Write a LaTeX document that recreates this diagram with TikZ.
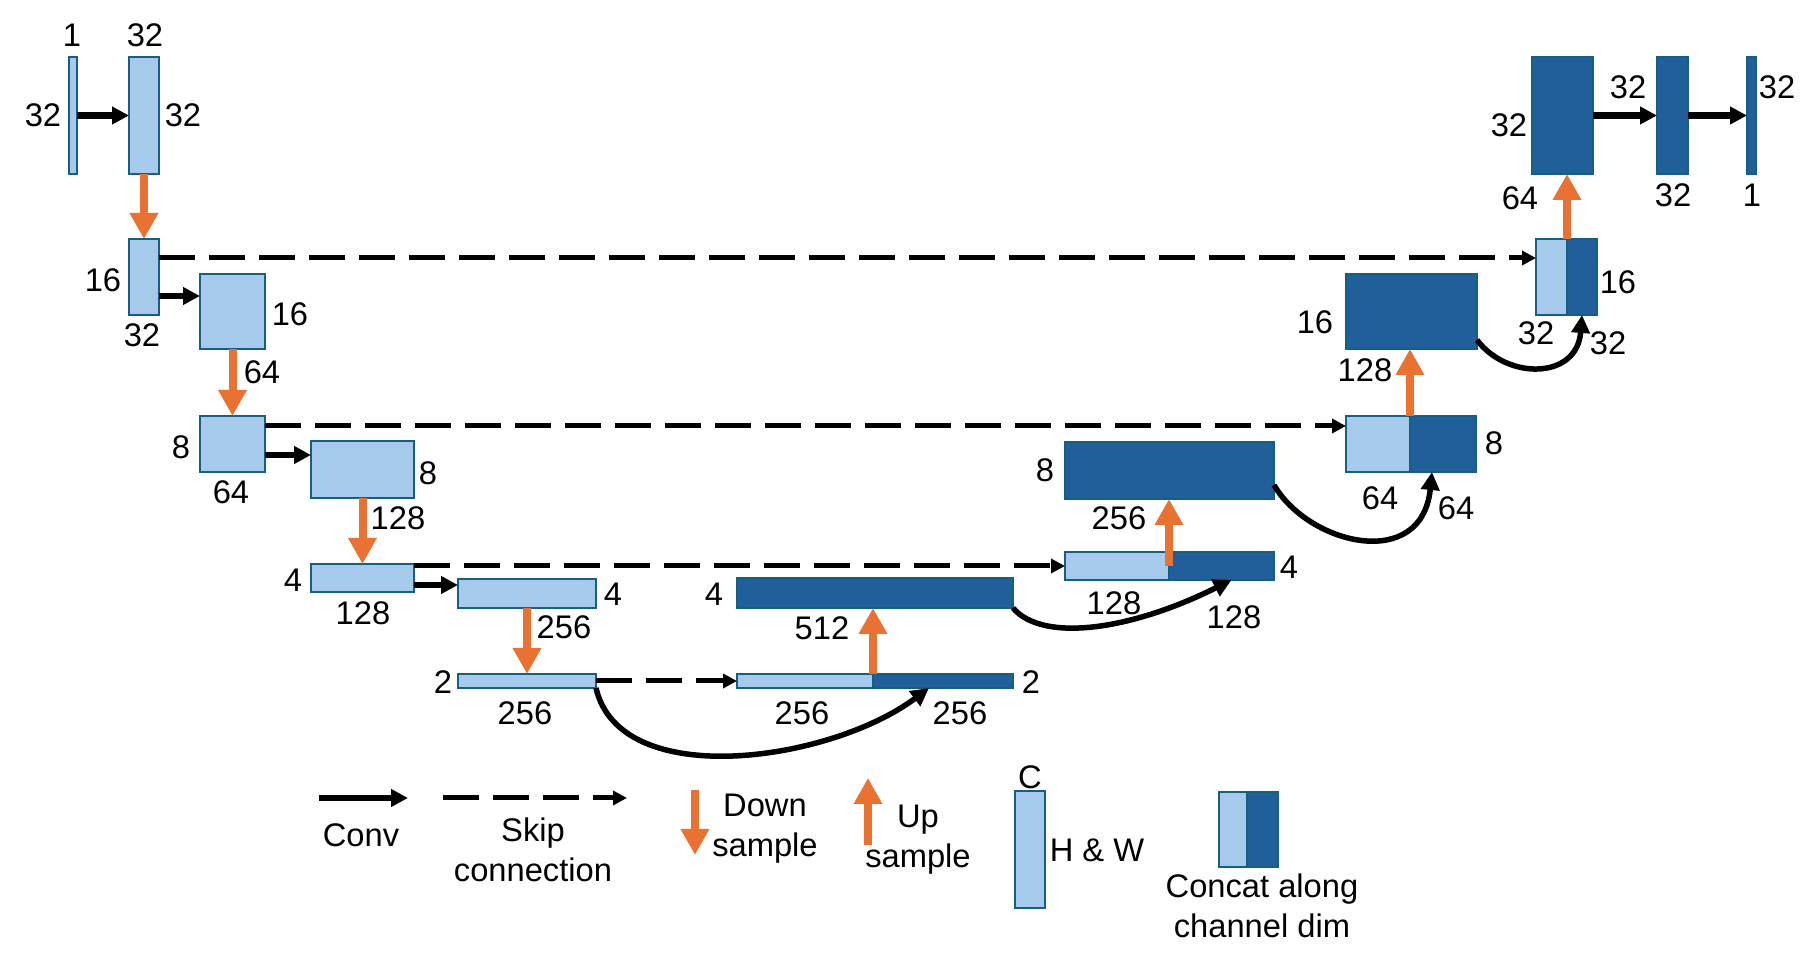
\documentclass[tikz,border=0pt]{standalone}
\usepackage{fontspec}
\setmainfont{Liberation Sans}
\usetikzlibrary{arrows.meta}

\definecolor{lightblk}{HTML}{A6CAEC}
\definecolor{darkblk}{HTML}{215F9A}
\definecolor{edgeblk}{HTML}{156082}
\definecolor{samplecol}{HTML}{E97132}

\begin{document}
\begin{tikzpicture}[
  font=\fontsize{9.3}{11.4}\selectfont,
  encblk/.style={draw=edgeblk, line width=0.7pt, fill=lightblk, inner sep=0pt, outer sep=0pt},
  decblk/.style={encblk, fill=darkblk},
  convarrow/.style={-{Triangle[width=1.7mm,length=1.7mm]}, line width=0.65mm},
  skiparrow/.style={-{Triangle[width=1.4mm,length=1.4mm]}, line width=0.5mm, dash pattern=on 3.6mm off 1.4mm},
  samplearrow/.style={-{Triangle[width=2.7mm,length=2.6mm]}, line width=0.8mm, samplecol},
  catarrow/.style={-{Triangle[width=1.8mm,length=1.8mm]}, line width=0.55mm},
  lbl/.style={inner sep=0pt}
]
  \useasboundingbox (0,0) rectangle (18.2,9.72);

  % Encoder blocks
  \node[encblk, minimum width=0.08cm, minimum height=1.17cm] (e0) at (0.73,8.565) {};
  \node[encblk, minimum width=0.30cm, minimum height=1.17cm] (e1) at (1.44,8.565) {};
  \node[encblk, minimum width=0.30cm, minimum height=0.76cm] (e2) at (1.44,6.95) {};
  \node[encblk, minimum width=0.65cm, minimum height=0.75cm] (e3) at (2.325,6.605) {};
  \node[encblk, minimum width=0.65cm, minimum height=0.56cm] (e4) at (2.325,5.28) {};
  \node[encblk, minimum width=1.03cm, minimum height=0.57cm] (e5) at (3.625,5.025) {};
  \node[encblk, minimum width=1.03cm, minimum height=0.28cm] (e6) at (3.625,3.94) {};
  \node[encblk, minimum width=1.38cm, minimum height=0.29cm] (e7) at (5.27,3.785) {};
  \node[encblk, minimum width=1.38cm, minimum height=0.14cm] (e8) at (5.27,2.91) {};

  % Decoder blocks (concat = light half + dark half)
  \node[encblk, minimum width=1.36cm, minimum height=0.14cm] (c8a) at (8.05,2.91) {};
  \node[decblk, minimum width=1.40cm, minimum height=0.14cm] (c8b) at (9.43,2.91) {};
  \node[decblk, minimum width=2.76cm, minimum height=0.30cm] (d7) at (8.75,3.79) {};
  \node[encblk, minimum width=1.04cm, minimum height=0.28cm] (c6a) at (11.17,4.06) {};
  \node[decblk, minimum width=1.05cm, minimum height=0.28cm] (c6b) at (12.215,4.06) {};
  \node[decblk, minimum width=2.09cm, minimum height=0.57cm] (d5) at (11.695,5.015) {};
  \node[encblk, minimum width=0.64cm, minimum height=0.56cm] (c4a) at (13.78,5.28) {};
  \node[decblk, minimum width=0.66cm, minimum height=0.56cm] (c4b) at (14.43,5.28) {};
  \node[decblk, minimum width=1.31cm, minimum height=0.75cm] (d3) at (14.115,6.605) {};
  \node[encblk, minimum width=0.31cm, minimum height=0.76cm] (c2a) at (15.515,6.95) {};
  \node[decblk, minimum width=0.30cm, minimum height=0.76cm] (c2b) at (15.82,6.95) {};
  \node[decblk, minimum width=0.61cm, minimum height=1.17cm] (d1) at (15.625,8.565) {};
  \node[decblk, minimum width=0.31cm, minimum height=1.17cm] (d0) at (16.725,8.565) {};
  \node[decblk, minimum width=0.09cm, minimum height=1.17cm] (out) at (17.515,8.565) {};

  % Conv arrows
  \draw[convarrow] (e0) -- (e1);
  \draw[convarrow] ([yshift=-0.22cm]e3.north west -| e2.east) -- ([yshift=-0.22cm]e3.north west);
  \draw[convarrow] ([yshift=-0.14cm]e5.north west -| e4.east) -- ([yshift=-0.14cm]e5.north west);
  \draw[convarrow] ([yshift=-0.06cm]e7.north west -| e6.east) -- ([yshift=-0.06cm]e7.north west);
  \draw[convarrow] (d1) -- (d0);
  \draw[convarrow] (d0) -- (out);

  % Skip connections
  \draw[skiparrow] ([yshift=-0.19cm]e2.north east) -- ([yshift=-0.19cm]c2a.north west);
  \draw[skiparrow] ([yshift=-0.10cm]e4.north east) -- ([yshift=-0.10cm]c4a.north west);
  \draw[skiparrow] (e6.east |- c6a.west) -- (c6a.west);
  \draw[skiparrow] (e8) -- (c8a);

  % Down sampling
  \draw[samplearrow] (e1.south) -- (e2.north);
  \draw[samplearrow] (e3.south) -- (e4.north);
  \draw[samplearrow] (e5.south) -- (e6.north);
  \draw[samplearrow] (e7.south) -- (e8.north);

  % Up sampling
  \draw[samplearrow] (c8a.north east) -- (c8a.north east |- d7.south);
  \draw[samplearrow] (c6a.east) -- (c6a.east |- d5.south);
  \draw[samplearrow] (c4a.north east) -- (c4a.north east |- d3.south);
  \draw[samplearrow] (c2a.north east) -- (c2a.north east |- d1.south);

  % Conv into the concatenated half
  \draw[catarrow] (e8.south east) .. controls +(0.24,-1.04) and +(-0.99,-0.74) .. ([xshift=-0.14cm]c8b.south);
  \draw[catarrow] (d7.south east) .. controls +(0.3,-0.35) and +(-1.0,-0.5) .. ([xshift=0.1cm]c6b.south);
  \draw[catarrow] ([yshift=0.14cm]d5.south east) .. controls +(0.35,-0.6) and +(-0.1,-1.0) .. ([xshift=-0.11cm]c4b.south);
  \draw[catarrow] ([yshift=0.09cm]d3.south east) .. controls +(0.3,-0.4) and +(-0.05,-0.65) .. (c2b.south);

  % Sizes, encoder side
  \node[lbl] (t1) at (0.72,9.37) {1};
  \node[lbl] (t2) at (1.45,9.37) {32};
  \node[lbl] (t3) at (0.43,8.57) {32};
  \node[lbl] (t4) at (1.83,8.57) {32};
  \node[lbl] (t5) at (1.03,6.92) {16};
  \node[lbl] (t6) at (1.42,6.37) {32};
  \node[lbl] (t7) at (2.90,6.58) {16};
  \node[lbl] (t8) at (2.62,6.00) {64};
  \node[lbl] (t9) at (1.81,5.25) {8};
  \node[lbl] (t10) at (2.31,4.80) {64};
  \node[lbl] (t11) at (4.28,4.99) {8};
  \node[lbl] (t12) at (3.98,4.54) {128};
  \node[lbl] (t13) at (2.93,3.92) {4};
  \node[lbl] (t14) at (3.63,3.59) {128};
  \node[lbl] (t15) at (6.13,3.78) {4};
  \node[lbl] (t16) at (5.64,3.45) {256};
  \node[lbl] (t17) at (4.43,2.90) {2};
  \node[lbl] (t18) at (5.25,2.59) {256};

  % Sizes, decoder side
  \node[lbl] (t19) at (8.02,2.59) {256};
  \node[lbl] (t20) at (9.60,2.59) {256};
  \node[lbl] (t21) at (10.31,2.90) {2};
  \node[lbl] (t22) at (8.22,3.44) {512};
  \node[lbl] (t23) at (7.14,3.78) {4};
  \node[lbl] (t24) at (12.89,4.05) {4};
  \node[lbl] (t25) at (11.14,3.69) {128};
  \node[lbl] (t26) at (12.34,3.55) {128};
  \node[lbl] (t27) at (10.45,5.02) {8};
  \node[lbl] (t28) at (11.19,4.54) {256};
  \node[lbl] (t29) at (14.94,5.29) {8};
  \node[lbl] (t30) at (13.80,4.74) {64};
  \node[lbl] (t31) at (14.56,4.64) {64};
  \node[lbl] (t32) at (13.15,6.50) {16};
  \node[lbl] (t33) at (13.65,6.02) {128};
  \node[lbl] (t34) at (16.18,6.90) {16};
  \node[lbl] (t35) at (15.36,6.39) {32};
  \node[lbl] (t36) at (16.08,6.29) {32};
  \node[lbl] (t37) at (15.09,8.47) {32};
  \node[lbl] (t38) at (15.20,7.74) {64};
  \node[lbl] (t39) at (16.28,8.85) {32};
  \node[lbl] (t40) at (16.73,7.77) {32};
  \node[lbl] (t41) at (17.77,8.85) {32};
  \node[lbl] (t42) at (17.52,7.77) {1};

  % Legend
  \coordinate (kconvA) at (3.19,1.74);
  \coordinate (kconvB) at (4.08,1.74);
  \coordinate (kskipA) at (4.43,1.74);
  \coordinate (kskipB) at (6.27,1.74);
  \coordinate (kdownA) at (6.95,1.82);
  \coordinate (kdownB) at (6.95,1.17);
  \coordinate (kupA) at (8.68,1.27);
  \coordinate (kupB) at (8.68,1.94);
  \draw[convarrow] (kconvA) -- (kconvB);
  \draw[skiparrow] (kskipA) -- (kskipB);
  \draw[samplearrow] (kdownA) -- (kdownB);
  \draw[samplearrow] (kupA) -- (kupB);
  \node[lbl] (kconv) at (3.61,1.37) {Conv};
  \node[lbl, align=center] (kskip) at (5.33,1.22) {Skip\\connection};
  \node[lbl, align=center] (kdown) at (7.65,1.43) {Down\\sample};
  \node[lbl, align=center] (kup) at (9.18,1.32) {Up\\sample};
  \node[encblk, minimum width=0.30cm, minimum height=1.17cm] (kblk) at (10.30,1.225) {};
  \node[lbl] (kC) at (10.30,1.95) {C};
  \node[lbl] (kHW) at (10.97,1.22) {H \& W};
  \node[encblk, minimum width=0.28cm, minimum height=0.75cm] (kcata) at (12.33,1.425) {};
  \node[decblk, minimum width=0.31cm, minimum height=0.75cm] (kcatb) at (12.625,1.425) {};
  \node[lbl, align=center] (kcat) at (12.62,0.66) {Concat along\\channel dim};
\end{tikzpicture}
\end{document}
